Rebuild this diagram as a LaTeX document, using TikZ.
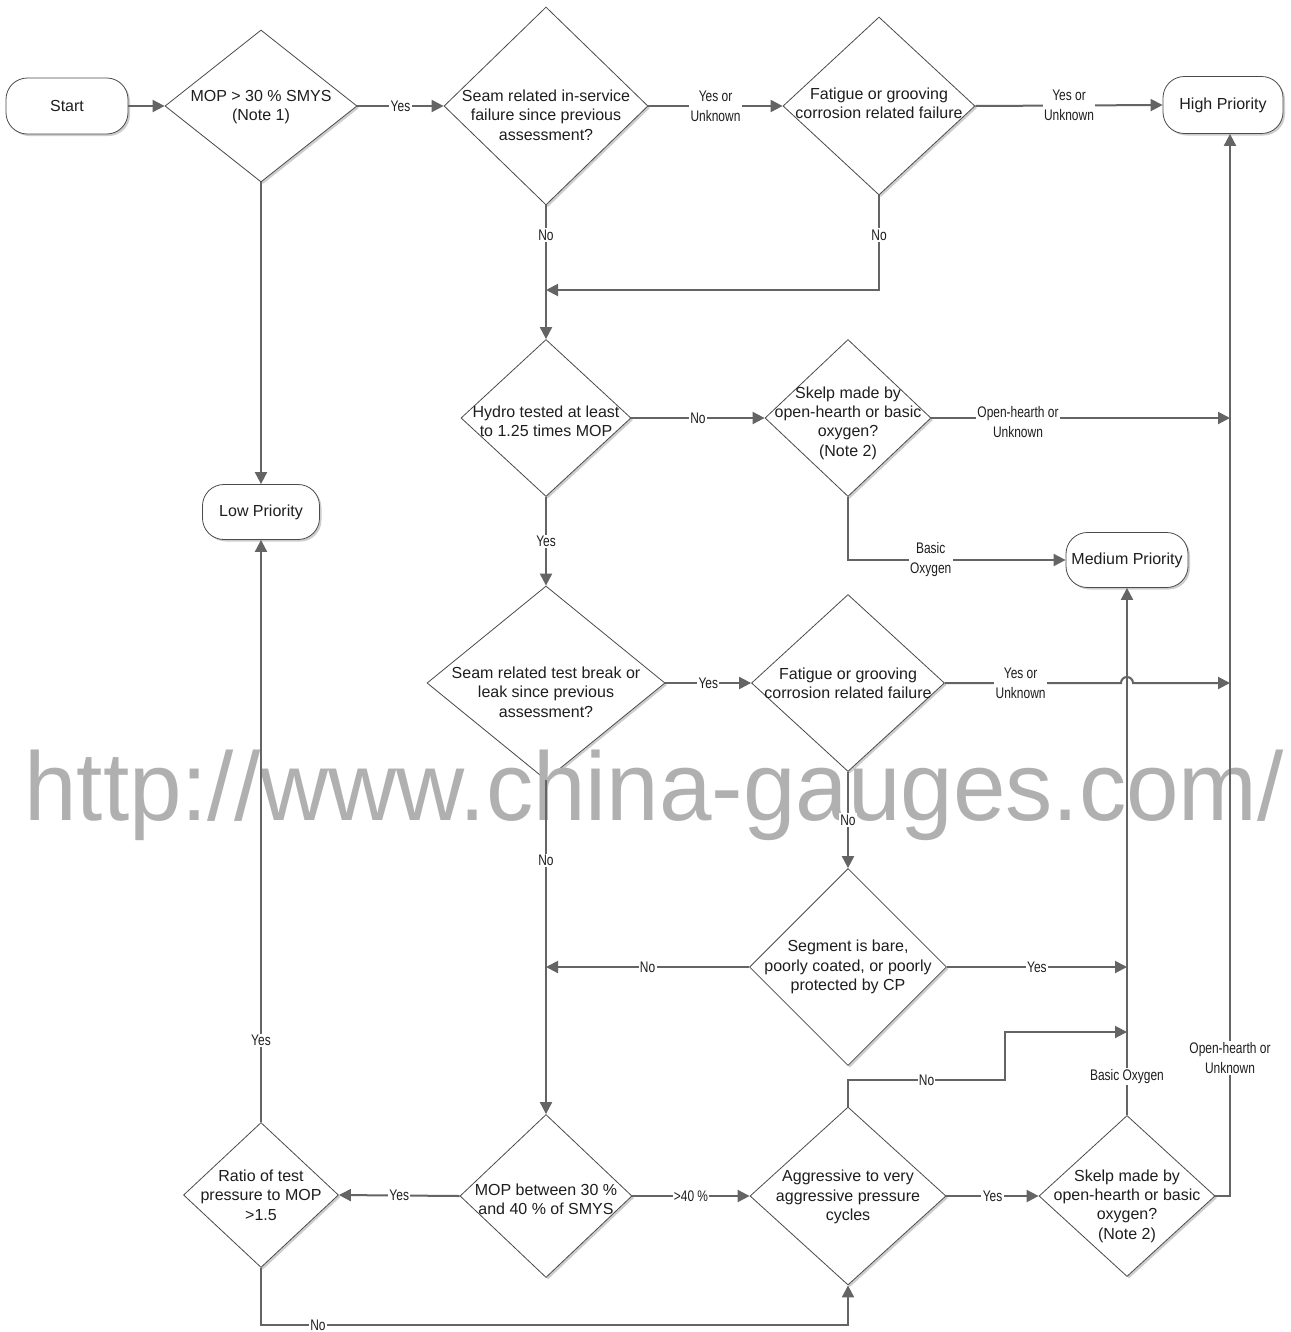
\documentclass[tikz,border=0pt]{standalone}
\usepackage{fontspec}
\setmainfont{Liberation Sans}
\newfontfamily\narrowfont{Liberation Sans}[FakeStretch=0.78]
\newfontfamily\wmfont{Liberation Sans}[FakeStretch=0.97]
\usetikzlibrary{shapes.geometric,arrows.meta,shadows}
\definecolor{linec}{RGB}{100,100,100}
\definecolor{edgec}{RGB}{75,75,75}
\definecolor{shadc}{RGB}{205,205,205}
\definecolor{wmc}{RGB}{176,176,176}
\definecolor{txtc}{RGB}{30,30,30}
\begin{document}
\begin{tikzpicture}[x=0.75pt,y=-0.75pt,
  shad/.style={drop shadow={shadow xshift=1.5pt,shadow yshift=-1.5pt,fill=shadc,opacity=1}},
  dia/.style 2 args={diamond, draw=edgec, line width=0.6pt, fill=white, inner sep=0pt,
    minimum width=#1*0.75pt, minimum height=#2*0.75pt, shad},
  term/.style 2 args={rectangle, rounded corners=16pt, draw=edgec, line width=0.6pt, fill=white,
    inner sep=0pt, minimum width=#1*0.75pt, minimum height=#2*0.75pt, shad,
    text=txtc, font=\fontsize{12}{14.5}\selectfont},
  txt/.style={align=center, inner sep=0pt, text=txtc, font=\fontsize{12}{14.5}\selectfont},
  conn/.style={draw=linec, line width=1.5pt, -{Triangle[length=9pt,width=9pt]}},
  lbl/.style={fill=white, inner sep=1pt, align=center, text=txtc,
    font=\narrowfont\fontsize{11.5}{15}\selectfont},
]
\useasboundingbox (0,0) rectangle (1291,1332);
\fill[white] (0,0) rectangle (1291,1332);

% terminals
\node[term={122}{56}] (start) at (67,106) {Start};
\node[term={120}{57}] (high) at (1223,105) {High Priority};
\node[term={122}{55}] (medium) at (1127,560) {Medium Priority};
\node[term={117}{55}] (low) at (261,512) {Low Priority};

% decisions
\node[dia={192}{152}] (d1) at (261,106) {};
\node[dia={204}{198}] (d2) at (546,106) {};
\node[dia={192}{178}] (d3) at (879,106) {};
\node[dia={170}{157}] (d4) at (546,418) {};
\node[dia={166}{157}] (d5) at (848,418) {};
\node[dia={238}{194}] (d6) at (546,683) {};
\node[dia={193}{177}] (d7) at (848,683) {};
\node[dia={197}{197}] (d8) at (848,967) {};
\node[dia={155}{145}] (d9) at (261,1195) {};
\node[dia={172}{163}] (d10) at (546,1196) {};
\node[dia={196}{178}] (d11) at (848,1196) {};
\node[dia={176}{161}] (d12) at (1127,1196) {};

\node[txt] (d1t) at (261,107) {MOP > 30 \% SMYS\\(Note 1)};
\node[txt] (d2t) at (546,115) {Seam related in-service\\failure since previous\\assessment?};
\node[txt] (d3t) at (879,103) {Fatigue or grooving\\corrosion related failure};
\node[txt] (d4t) at (546,421) {Hydro tested at least\\to 1.25 times MOP};
\node[txt] (d5t) at (848,423) {Skelp made by\\open-hearth or basic\\oxygen?\\(Note 2)};
\node[txt] (d6t) at (546,692) {Seam related test break or\\leak since previous\\assessment?};
\node[txt] (d7t) at (848,683) {Fatigue or grooving\\corrosion related failure};
\node[txt] (d8t) at (848,967) {Segment is bare,\\poorly coated, or poorly\\protected by CP};
\node[txt] (d9t) at (261,1195) {Ratio of test\\pressure to MOP\\>1.5};
\node[txt] (d10t) at (546,1199) {MOP between 30 \%\\and 40 \% of SMYS};
\node[txt] (d11t) at (848,1197) {Aggressive to very\\aggressive pressure\\cycles};
\node[txt] (d12t) at (1127,1206) {Skelp made by\\open-hearth or basic\\oxygen?\\(Note 2)};

% watermark
\begin{scope}
\clip (0,0) rectangle (1291,1332);
\node[anchor=base west, inner sep=0pt, text=wmc, font=\wmfont\fontsize{73}{73}\selectfont] (wm) at (24,820) {http://www.china-gauges.com/};
\end{scope}

% helper coordinates
\coordinate (vline) at (1230,0);
\coordinate (j1) at (546,290);
\coordinate (hopc) at (1127,683);
\coordinate (n1) at (1005,1080);
\coordinate (n2) at (1005,1032);
\coordinate (bl) at (261,1325);
\coordinate (br) at (848,1325);

% connectors
\draw[conn] (start.east) -- (d1.west);
\draw[conn] (d1.east) -- node[lbl] (l1) {Yes} (d2.west);
\draw[conn] (d2.east) -- node[lbl] (l2) {Yes or\\Unknown} (d3.west);
\draw[conn] (d3.east) -- node[lbl] (l3) {Yes or\\Unknown} (high.west);
\draw[conn] (d1.south) -- (low.north);
\draw[conn] (d2.south) -- node[lbl,pos=0.22] (l4) {No} (d4.north);
\draw[conn] (d3.south) -- node[lbl,pos=0.42] (l5) {No} (d3.south |- j1) -- (j1);
\draw[conn] (d4.east) -- node[lbl] (l6) {No} (d5.west);
\draw[conn] (d5.east) -- node[lbl,pos=0.29,yshift=-3pt] (l7) {Open-hearth or\\Unknown} (vline |- d5.east);
\draw[conn] (d5.south) |- node[lbl,pos=0.69] (l8) {Basic\\Oxygen} (medium.west);
\draw[conn] (d4.south) -- node[lbl] (l9) {Yes} (d6.north);
\draw[conn] (d6.east) -- node[lbl] (l10) {Yes} (d7.west);
\draw[conn] (d7.east) -- node[lbl,pos=0.43] (l11) {Yes or\\Unknown} ([xshift=-4.5pt]hopc)
   arc[start angle=180,end angle=360,radius=6] -- (vline |- d7.east);
\draw[conn] (d7.south) -- node[lbl] (l12) {No} (d8.north);
\draw[conn] (d6.south) -- node[lbl,pos=0.24] (l13) {No} (d10.north);
\draw[conn] (d8.west) -- node[lbl] (l14) {No} (d6.south |- d8.west);
\draw[conn] (d8.east) -- node[lbl] (l15) {Yes} (medium.south |- d8.east);
\draw[conn] (d11.north) |- node[lbl,pos=0.75] (l16) {No} (n1) -- (n2) -- (medium.south |- n2);
\draw[conn] (d12.north) -- node[lbl,pos=0.074] (l17) {Basic Oxygen} (medium.south);
\draw[conn] (d12.east) -| node[lbl,pos=0.565] (l18) {Open-hearth or\\Unknown} (vline |- high.south);
\draw[conn] (d10.west) -- node[lbl] (l19) {Yes} (d9.east);
\draw[conn] (d10.east) -- node[lbl] (l20) {>40 \%} (d11.west);
\draw[conn] (d11.east) -- node[lbl] (l21) {Yes} (d12.west);
\draw[conn] (d9.north) -- node[lbl,pos=0.14] (l22) {Yes} (low.south);
\draw[conn] (d9.south) -- (bl) -- node[lbl,pos=0.097] (l23) {No} (br) -- (d11.south);
\end{tikzpicture}
\end{document}
